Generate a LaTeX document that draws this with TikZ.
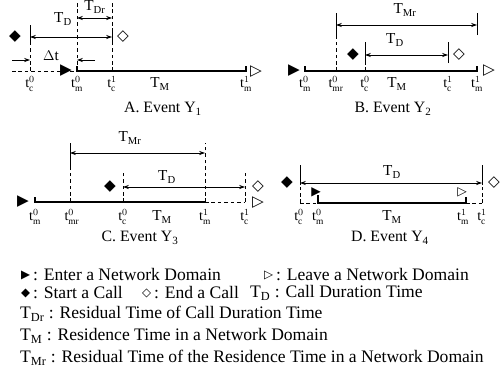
\documentclass[tikz,border=0pt]{standalone}
\usepackage{fontspec}
\setmainfont{Liberation Serif}
\newfontfamily\symfont{DejaVu Sans}
\usetikzlibrary{positioning,arrows.meta}
\newcommand{\tpt}[2]{$\mathrm{t}^{#2}_{\mathrm{#1}}$}
\newcommand{\Tsub}[1]{$\mathrm{T}_{\mathrm{#1}}$}

\begin{document}
\begin{tikzpicture}[
        x=0.03cm, y=-0.03cm,
        lbl/.style={font=\fontsize{12}{12}\selectfont, inner sep=1pt},
        durlbl/.style={font=\fontsize{13}{13}\selectfont, inner sep=1pt},
        caption/.style={font=\fontsize{13.5}{14}\selectfont, inner sep=1pt},
        key/.style={font=\fontsize{15}{15}\selectfont, inner sep=0pt},
        sym/.style={font=\symfont\fontsize{13}{13}\selectfont, inner sep=0pt},
        keysym/.style={font=\symfont\fontsize{10}{10}\selectfont, inner sep=0pt},
        span/.style={{Stealth[length=5pt,width=3.5pt]}-{Stealth[length=5pt,width=3.5pt]}, line width=0.6pt},
        guide/.style={dash pattern=on 3pt off 2.5pt, line width=0.7pt},
        bar/.style={line width=0.8pt},
        axis/.style={line width=1.1pt}
    ]
    \useasboundingbox (0,0) rectangle (501,385);

    % A. Event Y1
    \coordinate (aS) at (12,71);
    \coordinate (ac0) at (30,71);
    \coordinate (am0) at (77,71);
    \coordinate (ac1) at (112,71);
    \coordinate (am1) at (246,71);
    \draw[guide] (aS) -- (am0);
    \draw[axis] (am0) ++(0,-5) -- (am0) -- (am1) -- ++(0,-5);
    \draw[guide] (ac0) -- ++(0,-28);
    \draw[bar] (ac0) ++(0,-28) -- ++(0,-18);
    \draw[guide] (am0) -- ++(0,-69);
    \draw[guide] (ac1) -- ++(0,-69);
    \draw[bar] (ac1) ++(0,-26) -- ++(0,-17);
    \draw[span] (ac0 |- 0,37) -- (ac1 |- 0,37);
    \draw[span] (am0 |- 0,18) -- (ac1 |- 0,18);
    \draw[-{Stealth[length=5pt,width=3.5pt]}, line width=0.6pt] (aS |- 0,60) -- (ac0 |- 0,60);
    \draw[-{Stealth[length=5pt,width=3.5pt]}, line width=0.6pt] (95,60) -- (am0 |- 0,60);
    \node[sym] (aStart) at (15,37) {◆};
    \node[sym] (aEnd) at (123,37) {◇};
    \node[sym] (aIn) at (66,71) {▶};
    \node[sym] (aOut) at (256,72) {▷};
    \node[durlbl] (aTD) at (63,19) {\Tsub{D}};
    \node[durlbl] (aTDr) at (95,7) {\Tsub{Dr}};
    \node[durlbl] (aDt) at (51,56) {$\Delta$t};
    \node[lbl] (aLc0) at (30,84) {\tpt{c}{0}};
    \node[lbl] (aLm0) at (77,84) {\tpt{m}{0}};
    \node[lbl] (aLc1) at (112,84) {\tpt{c}{1}};
    \node[durlbl] (aTM) at (160,84) {\Tsub{M}};
    \node[lbl] (aLm1) at (246,84) {\tpt{m}{1}};
    \node[caption] (capA) at (163,109) {A. Event Y\textsubscript{1}};

    % B. Event Y2
    \coordinate (bm0) at (305,71);
    \coordinate (bmr) at (336,71);
    \coordinate (bc0) at (365,71);
    \coordinate (bc1) at (448,71);
    \coordinate (bm1) at (477,71);
    \draw[axis] (bm0) ++(0,-5) -- (bm0) -- (bm1) -- ++(0,-5);
    \draw[guide] (bmr) -- ++(0,-34);
    \draw[bar] (bmr) ++(0,-34) -- ++(0,-24);
    \draw[bar] (bm1) ++(0,-36) -- ++(0,-22);
    \draw[span] (bmr |- 0,25) -- (bm1 |- 0,25);
    \draw[guide] (bc0) -- ++(0,-8);
    \draw[bar] (bc0) ++(0,-8) -- ++(0,-21);
    \draw[bar] (bc1) ++(0,-8) -- ++(0,-21);
    \draw[span] (bc0 |- 0,55) -- (bc1 |- 0,55);
    \node[sym] (bStart) at (353,55) {◆};
    \node[sym] (bEnd) at (459,55) {◇};
    \node[sym] (bIn) at (294,71) {▶};
    \node[sym] (bOut) at (489,71) {▷};
    \node[durlbl] (bTMr) at (405,10) {\Tsub{Mr}};
    \node[durlbl] (bTD) at (395,40) {\Tsub{D}};
    \node[lbl] (bLm0) at (305,84) {\tpt{m}{0}};
    \node[lbl] (bLmr) at (336,84) {\tpt{mr}{0}};
    \node[lbl] (bLc0) at (365,84) {\tpt{c}{0}};
    \node[durlbl] (bTM) at (397,84) {\Tsub{M}};
    \node[lbl] (bLc1) at (448,84) {\tpt{c}{1}};
    \node[lbl] (bLm1) at (477,84) {\tpt{m}{1}};
    \node[caption] (capB) at (393,109) {B. Event Y\textsubscript{2}};

    % C. Event Y3
    \coordinate (cm0) at (35,202);
    \coordinate (cmr) at (70,202);
    \coordinate (cc0) at (123,202);
    \coordinate (cm1) at (205,202);
    \coordinate (cc1) at (245,202);
    \draw[axis] (cm0) ++(0,-5) -- (cm0) -- (cm1);
    \draw[guide] (cm1) -- (cc1);
    \draw[guide] (cmr) -- ++(0,-32);
    \draw[bar] (cmr) ++(0,-32) -- ++(0,-27);
    \draw[guide] (cm1) -- ++(0,-59);
    \draw[span] (cmr |- 0,153) -- (cm1 |- 0,153);
    \draw[guide] (cc0) -- ++(0,-30);
    \draw[guide] (cc1) -- ++(0,-30);
    \draw[span] (cc0 |- 0,187) -- (cc1 |- 0,187);
    \node[sym] (cStart) at (110,187) {◆};
    \node[sym] (cEnd) at (258,187) {◇};
    \node[sym] (cIn) at (23,202) {▶};
    \node[sym] (cOut) at (258,203) {▷};
    \node[durlbl] (cTMr) at (130,138) {\Tsub{Mr}};
    \node[durlbl] (cTD) at (167,177) {\Tsub{D}};
    \node[lbl] (cLm0) at (35,217) {\tpt{m}{0}};
    \node[lbl] (cLmr) at (72,217) {\tpt{mr}{0}};
    \node[lbl] (cLc0) at (123,217) {\tpt{c}{0}};
    \node[durlbl] (cTM) at (162,217) {\Tsub{M}};
    \node[lbl] (cLm1) at (205,217) {\tpt{m}{1}};
    \node[lbl] (cLc1) at (245,217) {\tpt{c}{1}};
    \node[caption] (capC) at (140,238) {C. Event Y\textsubscript{3}};

    % D. Event Y4
    \coordinate (dc0) at (300,203);
    \coordinate (dm0) at (318,203);
    \coordinate (dm1) at (466,203);
    \coordinate (dc1) at (482,203);
    \draw[guide] (dc0) -- (dm0);
    \draw[guide] (dm1) -- (dc1);
    \draw[axis] (dm0) ++(0,-8) -- (dm0) -- (dm1) -- ++(0,-6);
    \draw[guide] (dc0) -- ++(0,-18);
    \draw[bar] (dc0) ++(0,-18) -- ++(0,-20);
    \draw[guide] (dc1) -- ++(0,-18);
    \draw[bar] (dc1) ++(0,-18) -- ++(0,-20);
    \draw[span] (dc0 |- 0,183) -- (dc1 |- 0,183);
    \node[sym] (dStart) at (287,183) {◆};
    \node[sym] (dEnd) at (494,183) {◇};
    \node[sym, font=\symfont\fontsize{10.5}{10.5}\selectfont] (dIn) at (316,192) {▶};
    \node[sym, font=\symfont\fontsize{10.5}{10.5}\selectfont] (dOut) at (462,192) {▷};
    \node[durlbl] (dTD) at (392,172) {\Tsub{D}};
    \node[lbl] (dLc0) at (299,217) {\tpt{c}{0}};
    \node[lbl] (dLm0) at (318,217) {\tpt{m}{0}};
    \node[durlbl] (dTM) at (392,217) {\Tsub{M}};
    \node[lbl] (dLm1) at (463,217) {\tpt{m}{1}};
    \node[lbl] (dLc1) at (482,217) {\tpt{c}{1}};
    \node[caption] (capD) at (390,238) {D. Event Y\textsubscript{4}};

    % legend
    \node[keysym, anchor=west] (kIn) at (21,275) {▶};
    \node[key, right=2pt of kIn] (tIn) {: Enter a Network Domain};
    \node[keysym, anchor=west] (kOut) at (264,275) {▷};
    \node[key, right=2pt of kOut] (tOut) {: Leave a Network Domain};
    \node[keysym, anchor=west] (kStart) at (21,293) {◆};
    \node[key, right=2pt of kStart] (tStart) {: Start a Call};
    \node[keysym, anchor=west] (kEnd) at (142,293) {◇};
    \node[key, right=2pt of kEnd] (tEnd) {: End a Call};
    \node[key, anchor=west] (tTD) at (250,293) {\Tsub{D} : Call Duration Time};
    \node[key, anchor=west] (tTDr) at (20,314) {\Tsub{Dr} : Residual Time of Call Duration Time};
    \node[key, anchor=west] (tTM) at (20,336) {\Tsub{M} : Residence Time in a Network Domain};
    \node[key, anchor=west] (tTMr) at (20,358) {\Tsub{Mr} : Residual Time of the Residence Time in a Network Domain};
\end{tikzpicture}
\end{document}
